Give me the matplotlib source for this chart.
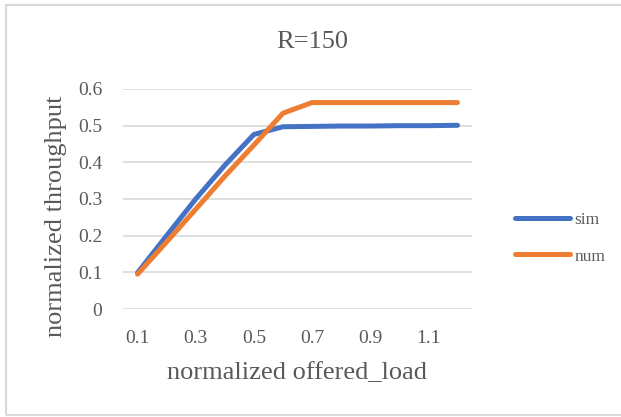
import matplotlib
matplotlib.use("Agg")
import matplotlib.pyplot as plt
from matplotlib.patches import Rectangle

# offered load categories (Excel category axis, every other label shown)
load = ["0.1", "0.2", "0.3", "0.4", "0.5", "0.6", "0.7", "0.8", "0.9", "1.0", "1.1", "1.2"]
sim = [0.099, 0.200, 0.300, 0.392, 0.476, 0.497, 0.498, 0.499, 0.499, 0.500, 0.500, 0.501]
num = [0.095, 0.183, 0.272, 0.362, 0.447, 0.534, 0.563, 0.563, 0.563, 0.563, 0.563, 0.563]
yticks = [0, 0.1, 0.2, 0.3, 0.4, 0.5, 0.6]

W, H = 621, 417
TXT = "#595959"
plt.rcParams["font.family"] = ["Liberation Serif", "DejaVu Serif"]

fig = plt.figure(figsize=(W / 100, H / 100), dpi=100)
fig.patches.append(Rectangle((6 / W, 2 / H), 1.0, (412 - 2) / H, transform=fig.transFigure,
                             fill=False, ec="#D9D9D9", lw=1.5))

# plot area in pixels: x 123..472, y 89..309
ax = fig.add_axes([123 / W, 1 - 309 / H, (472 - 123) / W, (309 - 89) / H])
x = range(len(load))
ax.plot(x, sim, color="#4472C4", lw=3.6, solid_capstyle="round", solid_joinstyle="round", label="sim")
ax.plot(x, num, color="#ED7D31", lw=3.6, solid_capstyle="round", solid_joinstyle="round", label="num")

ax.set_xlim(-0.5, len(load) - 0.5)
ax.set_ylim(0, 0.6)
ax.set_xticks(list(x)[::2])
ax.set_xticklabels(load[::2])
ax.set_yticks(yticks)
ax.set_yticklabels(["0" if v == 0 else f"{v:.1f}" for v in yticks])
ax.grid(axis="y", color="#D9D9D9", lw=1.2)
ax.set_axisbelow(True)
for s in ax.spines.values():
    s.set_visible(False)
ax.tick_params(length=0, labelsize=14, colors=TXT, pad=15)
ax.tick_params(axis="y", pad=15)

fig.text(312 / W, 1 - 42 / H, "R=150", ha="center", va="center", fontsize=19, color=TXT)
fig.text(297 / W, 1 - 373 / H, "normalized offered_load", ha="center", va="center", fontsize=19, color=TXT)
fig.text(56 / W, 1 - 216 / H, "normalized throughput", ha="center", va="center", rotation=90,
         fontsize=19, color=TXT)

leg = ax.legend(loc="center left", bbox_to_anchor=(506 / W, 1 - 238 / H), bbox_transform=fig.transFigure,
                frameon=False, fontsize=12.5, labelcolor=TXT, handlelength=3.2, handletextpad=0.25,
                labelspacing=1.2, borderpad=0)
for h in leg.get_lines():
    h.set_solid_capstyle("round")

fig.savefig("out.png", dpi=100)
